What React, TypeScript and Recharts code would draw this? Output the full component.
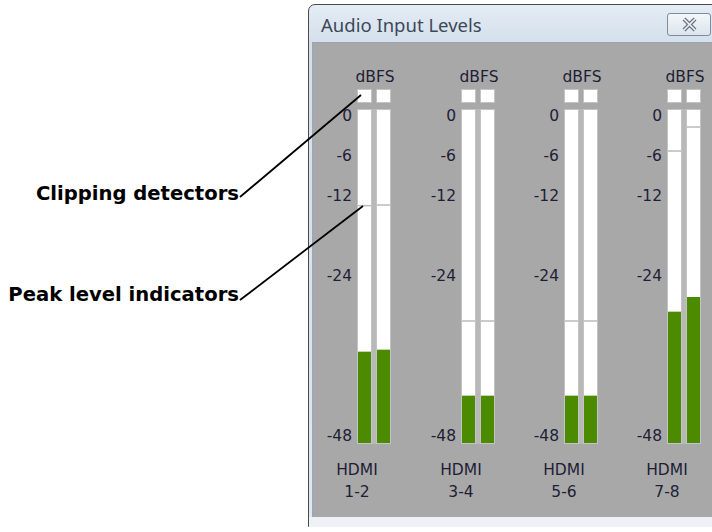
import React from 'react';
import { ComposedChart, Bar, Scatter, XAxis, YAxis } from 'recharts';

// ---- data ----
const channelNames = ['HDMI', 'HDMI', 'HDMI', 'HDMI'];
const channelPairs = ['1-2', '3-4', '5-6', '7-8'];
const sides = ['L', 'R'];
const levelsL = [-35.5, -42.1, -42.1, -29.5];
const levelsR = [-35.2, -42.1, -42.1, -27.3];
const peaksL = [-13.6, -30.9, -30.9, -5.4];
const peaksR = [-13.5, -30.9, -30.9, -1.8];
const dbTicks = [0, -6, -12, -24, -48];
const unitLabel = 'dBFS';
const windowTitle = 'Audio Input Levels';
const calloutClip = 'Clipping detectors';
const calloutPeak = 'Peak level indicators';

const FLOOR = -49.2;
const CEIL = 0.75;

// ---- layout (styles) ----
const plotLefts = [355, 459, 562, 665];
const AXIS_W = 40;
const PLOT_W = 38;
const UI_FONT = 'DejaVu Sans, Verdana, sans-serif';
const BG = '#a8a8a8';

const Track = (props: any) => {
  const { x, y, width, height } = props;
  const isLeft = props.index === 0 || (props.payload && props.payload.ch === 'L');
  return (
    <g>
      {isLeft && <rect x={x + width} y={y - 1} width={6} height={height + 2} fill="#b8b8b8" />}
      <rect x={x - 1} y={y - 1} width={width + 2} height={height + 2} fill="#c3c3c3" />
      <rect x={x} y={y} width={width} height={height} fill="#ffffff" />
      <rect x={x - 1} y={y - 21} width={width + 2} height={14} fill="#c3c3c3" />
      <rect x={x} y={y - 20} width={width} height={12} fill="#ffffff" />
    </g>
  );
};

const LevelBar = (p: any) => {
  const h = Math.abs(p.height);
  const y = p.height < 0 ? p.y + p.height : p.y;
  return <rect x={p.x} y={y} width={p.width} height={h} fill="#4c8a00" />;
};

const PeakMark = (p: any) => (
  <line x1={p.cx - 7} x2={p.cx + 7} y1={p.cy} y2={p.cy} stroke="#bfbfbf" strokeWidth={1.6} />
);

function Meter({ idx }: { idx: number }) {
  const data = sides.map((s, j) => ({
    ch: s,
    level: j === 0 ? levelsL[idx] : levelsR[idx],
    peak: j === 0 ? peaksL[idx] : peaksR[idx],
  }));
  return (
    <div style={{ position: 'absolute', left: plotLefts[idx] - AXIS_W, top: 0 }}>
      <ComposedChart
        width={AXIS_W + PLOT_W}
        height={532}
        data={data}
        margin={{ top: 110, right: 0, bottom: 89, left: 0 }}
        barCategoryGap={0}
      >
        <XAxis dataKey="ch" type="category" hide />
        <YAxis
          type="number"
          domain={[FLOOR, CEIL]}
          ticks={dbTicks}
          interval={0}
          width={AXIS_W}
          axisLine={false}
          tickLine={false}
          tickSize={0}
          tickMargin={3}
          tick={{ fill: '#1e1e36', fontSize: 15.5, fontFamily: UI_FONT }}
        />
        <Bar
          dataKey={(d: any) => [FLOOR, d.level]}
          barSize={13}
          background={<Track />}
          shape={<LevelBar />}
          isAnimationActive={false}
        />
        <Scatter dataKey="peak" shape={<PeakMark />} isAnimationActive={false} />
      </ComposedChart>
    </div>
  );
}

export default function App() {
  return (
    <div
      style={{
        position: 'absolute',
        left: 0,
        top: 0,
        width: 712,
        height: 532,
        overflow: 'hidden',
        background: '#ffffff',
      }}
    >
      {/* window frame */}
      <div
        style={{
          position: 'absolute',
          left: 308,
          top: 4,
          width: 430,
          height: 523,
          border: '1px solid #4a4a4a',
          borderRadius: '7px 7px 0 0',
          background: 'linear-gradient(#e4ecf5, #d3dfeb 40px, #dfe7f0)',
          boxSizing: 'border-box',
        }}
      />
      <div
        style={{
          position: 'absolute',
          left: 321,
          top: 12,
          fontFamily: 'Noto Sans, Open Sans, sans-serif',
          fontSize: 18.5,
          lineHeight: '26px',
          color: '#3c4858',
          whiteSpace: 'nowrap',
        }}
      >
        {windowTitle}
      </div>
      {/* close button */}
      <div
        style={{
          position: 'absolute',
          left: 667,
          top: 13,
          width: 44,
          height: 23,
          border: '1px solid #7f8c9c',
          borderRadius: 3,
          background: 'linear-gradient(#f4f7fa, #dce4ed)',
          boxSizing: 'border-box',
        }}
      >
        <svg width={42} height={21} style={{ position: 'absolute', left: 0, top: 0 }}>
          <line x1={16} y1={5} x2={27} y2={16} stroke="#6b7787" strokeWidth={4} />
          <line x1={27} y1={5} x2={16} y2={16} stroke="#6b7787" strokeWidth={4} />
          <line x1={16} y1={5} x2={27} y2={16} stroke="#eef2f6" strokeWidth={1.6} />
          <line x1={27} y1={5} x2={16} y2={16} stroke="#eef2f6" strokeWidth={1.6} />
        </svg>
      </div>
      {/* client area */}
      <div
        style={{
          position: 'absolute',
          left: 312,
          top: 42,
          width: 420,
          height: 475,
          background: BG,
          borderLeft: '1px solid #9aa6b3',
          borderTop: '1px solid #9aa6b3',
          boxSizing: 'border-box',
        }}
      />
      <div
        style={{
          position: 'absolute',
          left: 309,
          top: 517,
          width: 420,
          height: 10,
          background: '#eef1f5',
        }}
      />

      {plotLefts.map((_, i) => (
        <Meter key={i} idx={i} />
      ))}

      {/* overlay texts and callouts */}
      <svg
        width={712}
        height={532}
        style={{ position: 'absolute', left: 0, top: 0, pointerEvents: 'none' }}
      >
        {plotLefts.map((pl, i) => (
          <g key={i} fontFamily={UI_FONT} fontSize={15.5} fill="#1e1e36">
            <text x={pl + 20} y={82} textAnchor="middle">
              {unitLabel}
            </text>
            <text x={pl + 2} y={475} textAnchor="middle">
              {channelNames[i]}
            </text>
            <text x={pl + 2} y={497} textAnchor="middle">
              {channelPairs[i]}
            </text>
          </g>
        ))}
        <g fontFamily="DejaVu Sans, sans-serif" fontWeight="bold" fontSize={19.6} fill="#000">
          <text x={239} y={200} textAnchor="end">
            {calloutClip}
          </text>
          <text x={239} y={301} textAnchor="end">
            {calloutPeak}
          </text>
        </g>
        <line x1={240} y1={197} x2={361} y2={95} stroke="#000" strokeWidth={1.8} />
        <line x1={240} y1={300} x2={363} y2={206} stroke="#000" strokeWidth={1.8} />
      </svg>
    </div>
  );
}
